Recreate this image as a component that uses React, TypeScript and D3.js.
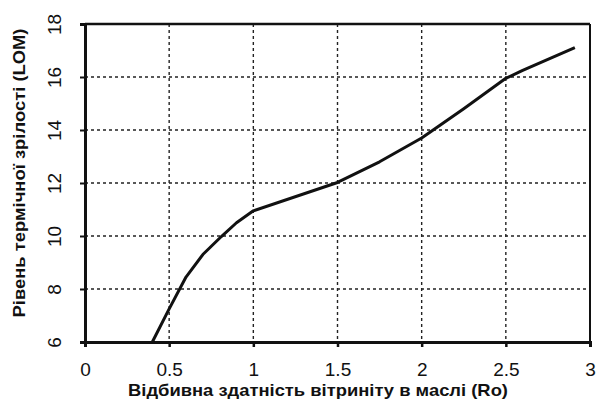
import React, { useEffect, useRef } from "react";
import * as d3 from "d3";

const roValues = [0.4, 0.5, 0.6, 0.7, 0.81, 0.9, 1.0, 1.5, 1.75, 2.0, 2.25, 2.5, 2.6, 2.91];
const lomValues = [6.0, 7.25, 8.45, 9.3, 9.98, 10.5, 10.95, 12.02, 12.8, 13.7, 14.8, 15.95, 16.25, 17.11];
const xTicks = [0, 0.5, 1, 1.5, 2, 2.5, 3];
const yTicks = [6, 8, 10, 12, 14, 16, 18];

const xTitle = "Відбивна здатність вітриніту в маслі (Ro)";
const yTitle = "Рівень термічної зрілості (LOM)";

export default function App() {
    const svgRef = useRef<SVGSVGElement | null>(null);

    useEffect(() => {
        if (!svgRef.current) return;
        const svg = d3.select(svgRef.current);
        svg.selectAll("*").remove();

        const width = 597;
        const height = 401;
        const margin = { top: 24, right: 7, bottom: 59, left: 85 };
        const font = "Liberation Sans, Arial, sans-serif";

        const x = d3.scaleLinear().domain([0, 3]).range([margin.left, width - margin.right]);
        const y = d3.scaleLinear().domain([6, 18]).range([height - margin.bottom, margin.top]);

        svg.append("rect").attr("width", width).attr("height", height).attr("fill", "#fff");

        // dotted grid
        const grid = svg.append("g").attr("stroke", "#222").attr("stroke-width", 1.4).attr("stroke-dasharray", "3,3");
        grid.selectAll(".vx")
            .data(xTicks.slice(1, -1))
            .enter()
            .append("line")
            .attr("x1", (d) => x(d))
            .attr("x2", (d) => x(d))
            .attr("y1", y(18))
            .attr("y2", y(6));
        grid.selectAll(".hy")
            .data(yTicks.slice(1, -1))
            .enter()
            .append("line")
            .attr("x1", x(0))
            .attr("x2", x(3))
            .attr("y1", (d) => y(d))
            .attr("y2", (d) => y(d));

        // frame
        svg.append("line").attr("x1", x(0)).attr("x2", x(3)).attr("y1", y(18)).attr("y2", y(18))
            .attr("stroke", "#111").attr("stroke-width", 2.5);
        svg.append("line").attr("x1", x(3)).attr("x2", x(3)).attr("y1", y(18)).attr("y2", y(6))
            .attr("stroke", "#111").attr("stroke-width", 2);

        // axes
        const xAxis = svg.append("g")
            .attr("transform", `translate(0,${y(6)})`)
            .call(d3.axisBottom(x).tickValues(xTicks).tickSize(5).tickFormat((d) => String(d)));
        xAxis.select(".domain").attr("stroke", "#111").attr("stroke-width", 3);
        xAxis.selectAll(".tick line").attr("stroke", "#111").attr("stroke-width", 2.5);
        xAxis.selectAll(".tick text")
            .attr("y", 21)
            .attr("font-family", font)
            .attr("font-size", 19)
            .attr("fill", "#111");

        const yAxis = svg.append("g")
            .attr("transform", `translate(${x(0)},0)`)
            .call(d3.axisLeft(y).tickValues(yTicks).tickSize(5).tickFormat((d) => String(d)));
        yAxis.select(".domain").attr("stroke", "#111").attr("stroke-width", 3);
        yAxis.selectAll(".tick line").attr("stroke", "#111").attr("stroke-width", 2);
        yAxis.selectAll(".tick text")
            .attr("x", 0)
            .attr("dy", 0)
            .attr("transform", "translate(-31,0) rotate(-90)")
            .attr("text-anchor", "middle")
            .attr("dominant-baseline", "central")
            .attr("font-family", font)
            .attr("font-size", 19)
            .attr("fill", "#111");

        // curve
        const pts: [number, number][] = roValues.map((r, i) => [r, lomValues[i]]);
        svg.append("path")
            .datum(pts)
            .attr("fill", "none")
            .attr("stroke", "#111")
            .attr("stroke-width", 3)
            .attr("stroke-linejoin", "round")
            .attr("d", d3.line<[number, number]>().x((d) => x(d[0])).y((d) => y(d[1])));

        // titles
        svg.append("text")
            .attr("x", 318)
            .attr("y", 396)
            .attr("text-anchor", "middle")
            .attr("font-family", font)
            .attr("font-weight", "bold")
            .attr("font-size", 17)
            .attr("textLength", 380)
            .attr("lengthAdjust", "spacingAndGlyphs")
            .attr("fill", "#111")
            .text(xTitle);

        svg.append("text")
            .attr("transform", `translate(25,173) rotate(-90)`)
            .attr("text-anchor", "middle")
            .attr("font-family", font)
            .attr("font-weight", "bold")
            .attr("font-size", 17)
            .attr("textLength", 289)
            .attr("lengthAdjust", "spacingAndGlyphs")
            .attr("fill", "#111")
            .text(yTitle);
    }, []);

    return (
        <svg
            ref={svgRef}
            width={597}
            height={401}
            style={{ position: "absolute", left: 0, top: 0 }}
        />
    );
}
